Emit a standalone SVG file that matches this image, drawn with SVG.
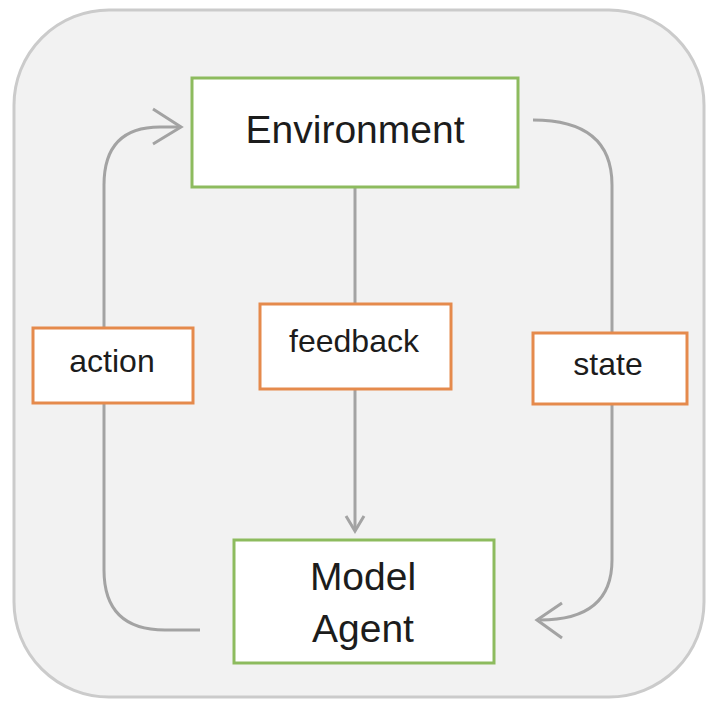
<svg xmlns="http://www.w3.org/2000/svg" width="716" height="706" viewBox="0 0 716 706">
<style>
.node{fill:#ffffff;stroke:#8dbb5e;stroke-width:3}
.lbl{fill:#ffffff;stroke:#e58a4c;stroke-width:3}
.t{font-family:"Liberation Sans",Arial,sans-serif;fill:#1c1c1c;text-anchor:middle}
.big{font-size:39px}
.small{font-size:32px}
.conn{fill:none;stroke:#a3a3a3;stroke-width:3}
</style>
<rect width="716" height="706" fill="#ffffff"/>
<rect x="14" y="10" width="690" height="687" rx="95" ry="95" fill="#f2f2f2" stroke="#cbcbcb" stroke-width="3"/>
<g id="connectors">
<path class="conn" d="M200,630 L165,630 Q104,630 104,570 L104,185 Q104,127 160,127 L181,127"/>
<path class="conn" d="M153,109 L181,127 L153,144"/>
<path class="conn" d="M533,120 Q612,120 612,185 L612,560 Q612,620 540,620"/>
<path class="conn" d="M562,603 L537,620 L562,638"/>
<path class="conn" d="M355,187 L355,531"/>
<path class="conn" d="M346,516 L355,531 L364,516"/>
</g>
<g id="environment">
<rect class="node" x="192" y="78" width="326" height="109"/>
<text class="t big" x="355" y="143">Environment</text>
</g>
<g id="model-agent">
<rect class="node" x="234" y="540" width="260" height="123"/>
<text class="t big" x="363" y="590">Model</text>
<text class="t big" x="363" y="642">Agent</text>
</g>
<g id="action">
<rect class="lbl" x="33" y="328" width="160" height="75"/>
<text class="t small" x="112" y="372">action</text>
</g>
<g id="feedback">
<rect class="lbl" x="260" y="304" width="191" height="85"/>
<text class="t small" x="354" y="352">feedback</text>
</g>
<g id="state">
<rect class="lbl" x="533" y="333" width="154" height="71"/>
<text class="t small" x="608" y="375">state</text>
</g>
</svg>
